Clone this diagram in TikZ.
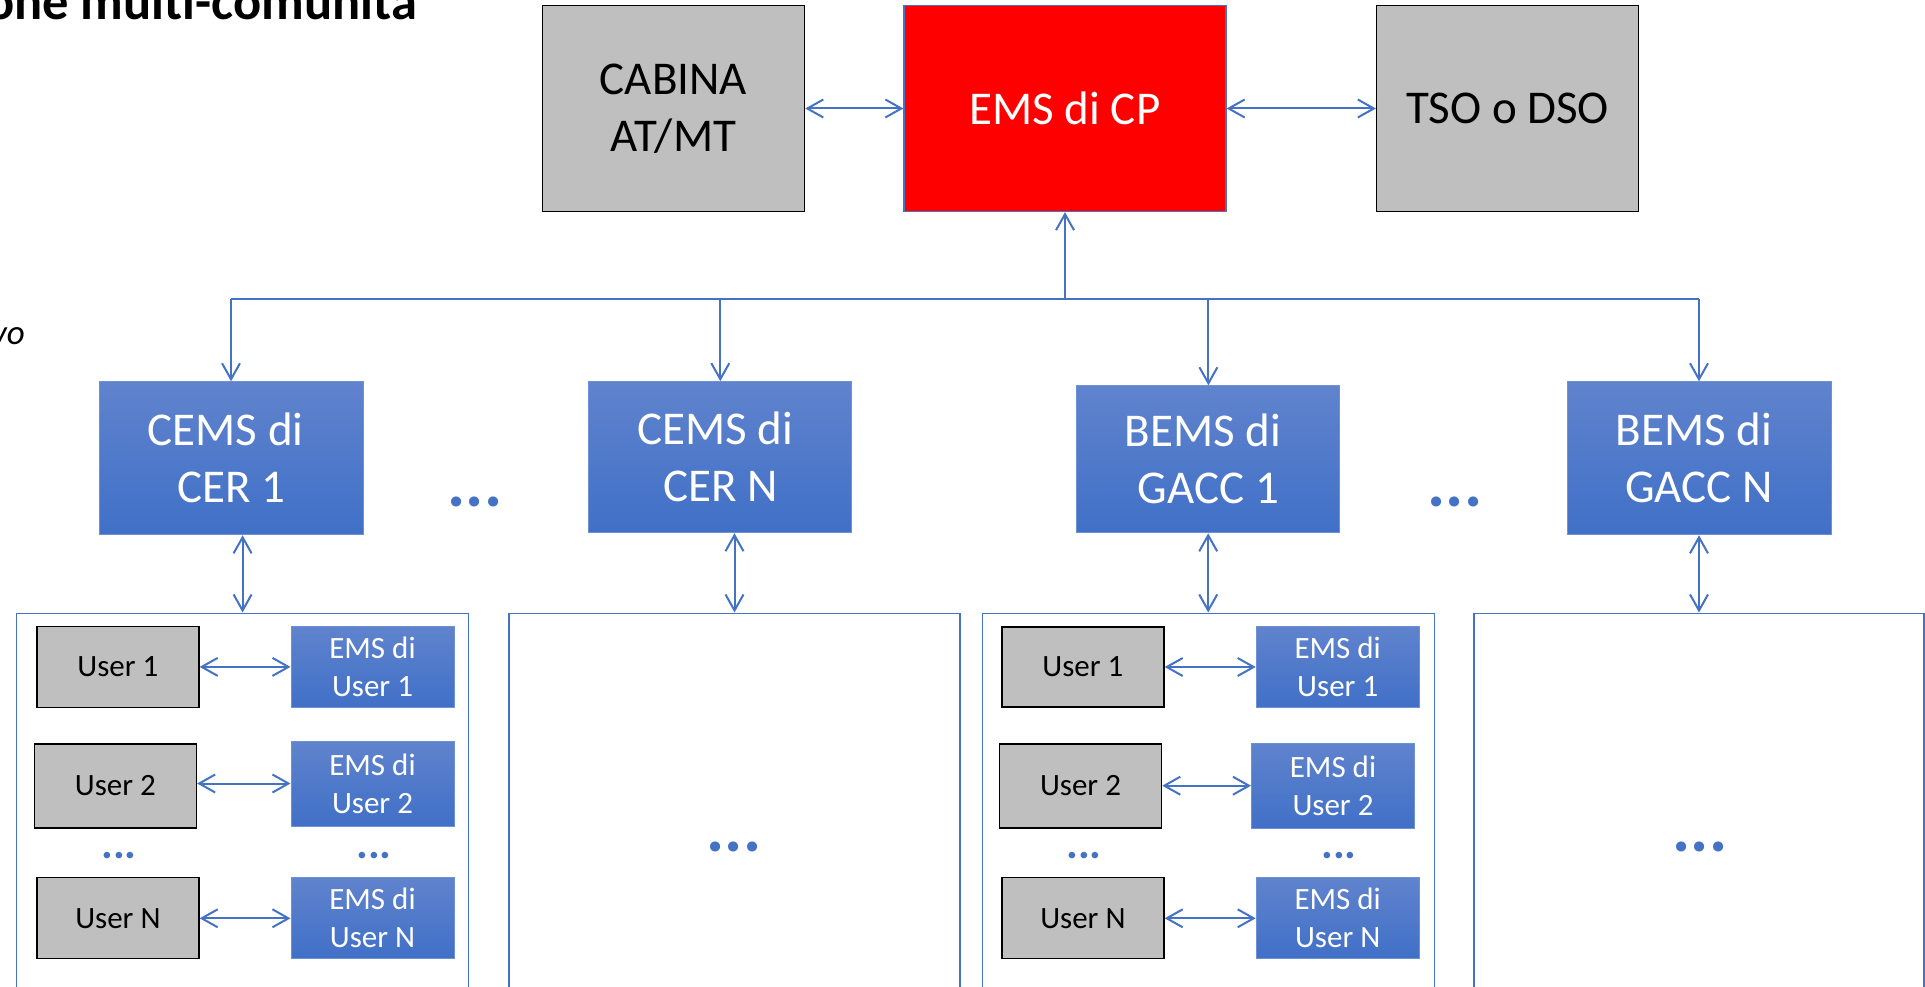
\documentclass[tikz,border=0pt]{standalone}
\usepackage{fontspec}
\setmainfont{Carlito}
\usetikzlibrary{arrows.meta}
\definecolor{lnblue}{RGB}{68,114,196}
\definecolor{btop}{RGB}{96,131,205}
\definecolor{bbot}{RGB}{64,112,199}
\definecolor{bedge}{RGB}{110,145,212}
\definecolor{gfill}{RGB}{191,191,191}
\definecolor{rfill}{RGB}{255,0,0}
\tikzset{
  bigfont/.style={font=\fontsize{47}{57}\selectfont},
  smallfont/.style={font=\fontsize{31}{38}\selectfont},
  box/.style={rectangle, inner sep=0pt, align=center, anchor=center},
  greybig/.style={box, bigfont, fill=gfill, draw=black, line width=1.5pt},
  redbig/.style={box, bigfont, fill=rfill, draw=lnblue, line width=1.2pt, text=white},
  bluebig/.style={box, bigfont, top color=btop, bottom color=bbot, draw=bedge, line width=1pt, text=white},
  greyuser/.style={box, smallfont, fill=gfill, draw=black, line width=1.5pt, minimum width=162pt},
  blueuser/.style={box, smallfont, top color=btop, bottom color=bbot, draw=bedge, line width=1pt, text=white, minimum width=163pt},
  container/.style={rectangle, inner sep=0pt, draw=lnblue, line width=1.3pt, anchor=north, minimum height=420pt},
  conn/.style={draw=lnblue, line width=2pt},
  twoway/.style={conn, {Straight Barb[length=16pt,width=18pt]}-{Straight Barb[length=16pt,width=18pt]}},
  oneway/.style={conn, -{Straight Barb[length=16pt,width=18pt]}},
  bigdots/.style={inner sep=0pt, anchor=base, text=lnblue, font=\fontsize{68}{68}\selectfont\bfseries},
  smalldots/.style={inner sep=0pt, anchor=base, text=lnblue, font=\fontsize{44}{44}\selectfont\bfseries},
}
\begin{document}
\begin{tikzpicture}[x=1pt,y=-1pt]
\useasboundingbox (0,0) rectangle (1925,987);
% title fragments
\node[anchor=base west, inner sep=0pt, font=\fontsize{52.5}{60}\selectfont\bfseries] (title) at (-14,20) {one multi-comunità};
\node[anchor=base east, inner sep=0pt, font=\fontsize{35}{40}\selectfont\itshape] (side) at (25,344) {vo};
% top row
\node[greybig, minimum width=262pt, minimum height=206pt] (cab) at (673.5,108.5) {CABINA\\AT/MT};
\node[redbig, minimum width=322pt, minimum height=206pt] (cp) at (1065,108.5) {EMS di CP};
\node[greybig, minimum width=262pt, minimum height=206pt] (tso) at (1507.6,108.5) {TSO o DSO};
\draw[twoway] (cab.east) -- (cp.west);
\draw[twoway] (cp.east) -- (tso.west);
% middle row
\node[bluebig, minimum width=264pt, minimum height=153pt] (c1) at (231,458.3) {CEMS di\kern10.6pt\\CER 1};
\node[bluebig, minimum width=263pt, minimum height=151pt] (cN) at (720.3,457.2) {CEMS di\kern10.6pt\\CER N};
\node[bluebig, minimum width=263pt, minimum height=147pt] (b1) at (1208.4,459.3) {BEMS di\kern10.6pt\\GACC 1};
\node[bluebig, minimum width=264pt, minimum height=153pt] (bN) at (1699,458.3) {BEMS di\kern10.6pt\\GACC N};
\node[bigdots] (d1) at (475,506) {...};
\node[bigdots] (d2) at (1455,506) {...};
% bus
\coordinate (bus) at (1065,299);
\draw[conn] (c1.north |- bus) -- (bN.north |- bus);
\draw[oneway] (bus) -- (cp.south);
\draw[oneway] (c1.north |- bus) -- (c1.north);
\draw[oneway] (cN.north |- bus) -- (cN.north);
\draw[oneway] (b1.north |- bus) -- (b1.north);
\draw[oneway] (bN.north |- bus) -- (bN.north);
% containers
\node[container, minimum width=452pt] (k1) at (242.6,612.5) {};
\node[container, minimum width=451pt] (k2) at (734.5,612.5) {};
\node[container, minimum width=452pt] (k3) at (1208.2,612.5) {};
\node[container, minimum width=450pt] (k4) at (1699,612.5) {};
\draw[twoway] (k1.north |- c1.south) -- (k1.north);
\draw[twoway] (k2.north |- cN.south) -- (k2.north);
\draw[twoway] (k3.north |- b1.south) -- (k3.north);
\draw[twoway] (k4.north |- bN.south) -- (k4.north);
\node[bigdots] (d3) at (734,851.5) {...};
\node[bigdots] (d4) at (1700,851.5) {...};
% users community 1
\node[greyuser, minimum height=80.6pt] (u11) at (117.9,667) {User 1};
\node[blueuser, minimum height=81.7pt] (e11) at (372.5,666.9) {EMS di\\User 1};
\node[greyuser, minimum height=84pt] (u12) at (115.4,786) {User 2};
\node[blueuser, minimum height=85pt] (e12) at (372.5,783.5) {EMS di\\User 2};
\node[greyuser, minimum height=81pt] (u1N) at (117.9,918.2) {User N};
\node[blueuser, minimum height=81.3pt] (e1N) at (372.5,918.3) {EMS di\\User N};
\node[smalldots] (s11) at (119,858.5) {...};
\node[smalldots] (s12) at (374,858.5) {...};
\draw[twoway] (u11.east |- e11.west) -- (e11.west);
\draw[twoway] (u12.east |- e12.west) -- (e12.west);
\draw[twoway] (u1N.east |- e1N.west) -- (e1N.west);
% users community 3
\node[greyuser, minimum height=80.3pt] (u31) at (1082.9,667) {User 1};
\node[blueuser, minimum height=81.7pt] (e31) at (1337.7,667) {EMS di\\User 1};
\node[greyuser, minimum height=84pt] (u32) at (1080.5,786) {User 2};
\node[blueuser, minimum height=84.7pt] (e32) at (1333,785.7) {EMS di\\User 2};
\node[greyuser, minimum height=81pt] (u3N) at (1082.9,918.2) {User N};
\node[blueuser, minimum height=81.3pt] (e3N) at (1337.7,918.3) {EMS di\\User N};
\node[smalldots] (s31) at (1084,858.5) {...};
\node[smalldots] (s32) at (1339,858.5) {...};
\draw[twoway] (u31.east |- e31.west) -- (e31.west);
\draw[twoway] (u32.east |- e32.west) -- (e32.west);
\draw[twoway] (u3N.east |- e3N.west) -- (e3N.west);
\end{tikzpicture}
\end{document}
